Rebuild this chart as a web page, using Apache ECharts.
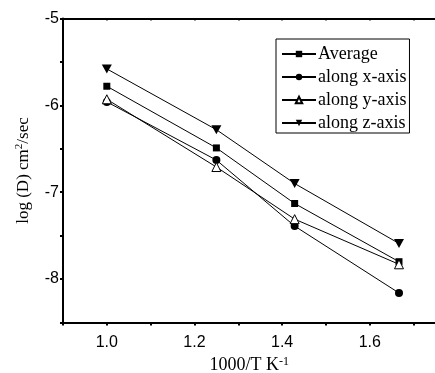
<!DOCTYPE html>
<html>
<head>
<meta charset="utf-8">
<script src="https://cdn.jsdelivr.net/npm/echarts@6/dist/echarts.min.js"></script>
<style>
html,body{margin:0;padding:0;background:#fff;}
#chart{width:435px;height:373px;}
</style>
</head>
<body>
<div id="chart"></div>
<script>
// ---- data ----
var xValues = [1.0, 1.25, 1.4286, 1.6667];
var seriesNames = ['Average', 'along x-axis', 'along y-axis', 'along z-axis'];
var averageVals = [-5.78, -6.49, -7.13, -7.80];
var alongXVals  = [-5.96, -6.63, -7.39, -8.16];
var alongYVals  = [-5.93, -6.71, -7.31, -7.83];
var alongZVals  = [-5.58, -6.28, -6.90, -7.59];
var xTickLabels = ['1.0', '1.2', '1.4', '1.6'];
var yTickLabels = ['-5', '-6', '-7', '-8'];

function pairs(vals) { return xValues.map(function (x, i) { return [x, vals[i]]; }); }

var serif = 'Liberation Serif';
var sans = 'Liberation Sans';

function fmtX(v) {
  var s = (Math.round(v * 10) / 10).toFixed(1);
  if (Math.abs(v * 10 - Math.round(v * 10)) > 1e-6) return '';
  return xTickLabels.indexOf(s) >= 0 ? s : '';
}
function fmtY(v) {
  if (Math.abs(v - Math.round(v)) > 1e-6) return '';
  var s = String(Math.round(v));
  return yTickLabels.indexOf(s) >= 0 ? s : '';
}

var invTri = 'path://M0,0 L10,0 L5,9 Z';

function mkSeries(name, vals, symbol, size, hollow) {
  return {
    name: name, type: 'line', data: pairs(vals),
    symbol: symbol, symbolSize: size,
    lineStyle: { color: '#000', width: 1 },
    itemStyle: hollow ? { color: '#fff', borderColor: '#000', borderWidth: 1 } : { color: '#000', borderColor: '#000', borderWidth: 0 },
    emphasis: { disabled: true },
    animation: false,
    z: 3
  };
}

var chart = echarts.init(document.getElementById('chart'), null, { renderer: 'canvas' });
chart.setOption({
  backgroundColor: '#fff',
  animation: false,
  grid: { left: 63, top: 18.5, width: 372.5, height: 304, outerBoundsMode: 'none', containLabel: false },
  legend: {
    orient: 'vertical', left: 276, top: 39,
    data: seriesNames,
    itemWidth: 34, itemHeight: 8, itemGap: 5,
    padding: [6, 3, 1, 5],
    borderColor: '#000', borderWidth: 1,
    textStyle: { fontFamily: serif, fontSize: 18, color: '#000', padding: [0, 0, 0, -3] },
    selectedMode: false
  },
  xAxis: [{
    type: 'value', min: 0.9, max: 1.75, interval: 0.1,
    position: 'bottom',
    axisLine: { show: true, onZero: false, lineStyle: { color: '#000', width: 2 } },
    axisTick: { show: true, inside: false, length: 3, lineStyle: { color: '#000', width: 2 } },
    axisLabel: { formatter: fmtX, fontFamily: sans, fontSize: 16, color: '#000', margin: 12, showMaxLabel: false },
    splitLine: { show: false },
    name: '1000/T K{sup|-1}', nameLocation: 'middle', nameGap: 33,
    nameTextStyle: { fontFamily: serif, fontSize: 18, color: '#000', lineHeight: 20,
      rich: { sup: { fontFamily: serif, fontSize: 12, color: '#000', verticalAlign: 'top', lineHeight: 12 } } }
  }, {
    type: 'value', min: 0.9, max: 1.75, interval: 0.1,
    position: 'top',
    axisLine: { show: true, onZero: false, lineStyle: { color: '#000', width: 2 } },
    axisTick: { show: true, inside: true, length: 2, lineStyle: { color: '#000', width: 1.5 } },
    axisLabel: { show: false },
    splitLine: { show: false }
  }],
  yAxis: [{
    type: 'value', min: -8.5, max: -5, interval: 0.5,
    position: 'left',
    axisLine: { show: true, onZero: false, lineStyle: { color: '#000', width: 2 } },
    axisTick: { show: true, inside: false, length: 3, lineStyle: { color: '#000', width: 2 } },
    axisLabel: { formatter: fmtY, fontFamily: sans, fontSize: 16, color: '#000', margin: 4 },
    splitLine: { show: false },
    name: 'log (D) cm{sup|2}/sec', nameLocation: 'middle', nameGap: 28,
    nameTextStyle: { fontFamily: serif, fontSize: 17, color: '#000', lineHeight: 20,
      rich: { sup: { fontFamily: serif, fontSize: 11, color: '#000', verticalAlign: 'top', lineHeight: 11 } } }
  }],
  series: [
    mkSeries(seriesNames[0], averageVals, 'rect', 7, false),
    mkSeries(seriesNames[1], alongXVals, 'circle', 8, false),
    mkSeries(seriesNames[2], alongYVals, 'triangle', 9, true),
    mkSeries(seriesNames[3], alongZVals, invTri, [10, 9], false)
  ]
});
</script>
</body>
</html>
